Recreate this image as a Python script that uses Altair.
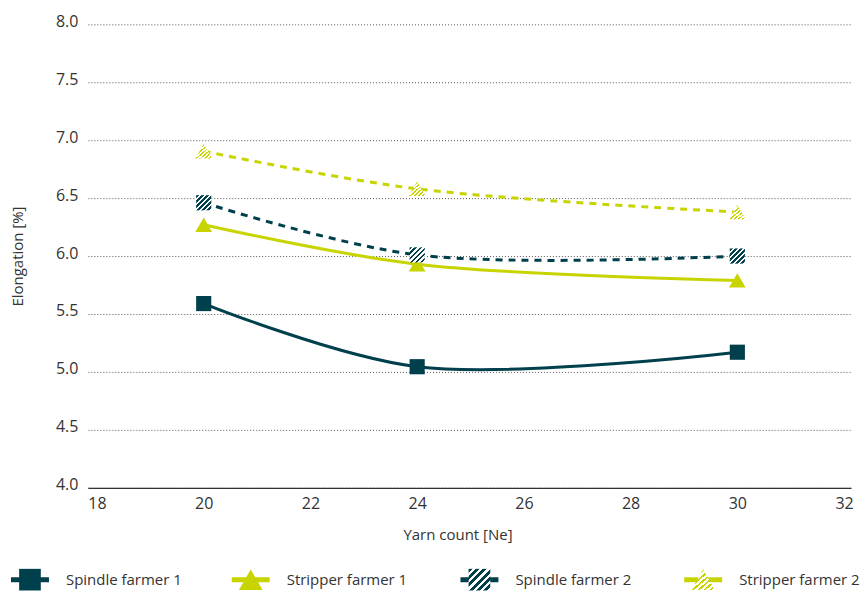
import altair as alt
import pandas as pd

# ---- data ----
yarn_count = [20, 24, 30]
spindle_farmer_1 = [5.59, 5.045, 5.17]
stripper_farmer_1 = [6.27, 5.93, 5.79]
spindle_farmer_2 = [6.46, 6.01, 6.00]
stripper_farmer_2 = [6.905, 6.58, 6.38]
series_names = ["Spindle farmer 1", "Stripper farmer 1", "Spindle farmer 2", "Stripper farmer 2"]
series_values = [spindle_farmer_1, stripper_farmer_1, spindle_farmer_2, stripper_farmer_2]
x_ticks = [18, 20, 22, 24, 26, 28, 30, 32]
y_ticks = [4.0, 4.5, 5.0, 5.5, 6.0, 6.5, 7.0, 7.5, 8.0]

DARK = "#00404d"
LIME = "#c8d400"
FONT = "Open Sans"
TXT = "#333333"


def stripes(c1, c2, n, frac):
    stops = []
    for i in range(n):
        a, b, c = i / n, (i + frac) / n, (i + 1) / n
        stops += [
            alt.GradientStop(color=c1, offset=a),
            alt.GradientStop(color=c1, offset=b),
            alt.GradientStop(color=c2, offset=b),
            alt.GradientStop(color=c2, offset=c),
        ]
    return alt.LinearGradient(gradient="linear", stops=stops, x1=0, y1=0, x2=1, y2=1)


styles = {
    "Spindle farmer 1": dict(color=DARK, dash=None, shape="square", fill=DARK, size=230, lsize=470),
    "Stripper farmer 1": dict(color=LIME, dash=None, shape="triangle-up", fill=LIME, size=280, lsize=560),
    "Spindle farmer 2": dict(color=DARK, dash=[7, 6], shape="square", fill=stripes(DARK, "#ffffff", 6, 0.55), size=230, lsize=470),
    "Stripper farmer 2": dict(color=LIME, dash=[7, 6], shape="triangle-up", fill=stripes(LIME, "#ffffff", 8, 0.45), size=280, lsize=560),
}

rows = []
for name, vals in zip(series_names, series_values):
    for xv, yv in zip(yarn_count, vals):
        rows.append({"series": name, "count": xv, "elong": yv})
df = pd.DataFrame(rows)

x_enc = alt.X(
    "count:Q",
    scale=alt.Scale(domain=[17.83, 32.13], nice=False, zero=False),
    axis=alt.Axis(values=x_ticks, format="d", title="Yarn count [Ne]", grid=False, ticks=False,
                  domainColor="#333333", domainWidth=1.2, labelPadding=8, titlePadding=16,
                  titleX=370, titleFontSize=15),
)
y_enc = alt.Y(
    "elong:Q",
    scale=alt.Scale(domain=[4, 8], nice=False, zero=False),
    axis=alt.Axis(values=y_ticks, format=".1f", title="Elongation [%]", domain=False, ticks=False,
                  grid=True, gridDash=[1, 2], gridColor="#555555", gridWidth=1,
                  labelPadding=10, labelOffset=-3, titlePadding=30, titleFontSize=15),
)

base = alt.Chart(df)
line_layers = []
point_layers = []
for name in series_names:
    st = styles[name]
    sub = base.transform_filter(alt.datum.series == name)
    lkw = dict(color=st["color"], strokeWidth=3, interpolate="catmull-rom")
    if st["dash"]:
        lkw["strokeDash"] = st["dash"]
    line_layers.append(sub.mark_line(**lkw).encode(x=x_enc, y=y_enc))
    point_layers.append(
        sub.mark_point(shape=st["shape"], filled=True, fill=st["fill"], size=st["size"],
                       opacity=1, strokeWidth=0).encode(x=x_enc, y=y_enc)
    )

main = alt.layer(*line_layers, *point_layers).properties(width=764, height=464)

# ---- legend row ----
leg_df = pd.DataFrame({"series": series_names, "slot": list(range(len(series_names)))})
leg_x = alt.X("slot:Q", scale=alt.Scale(domain=[0, 1, 2, 3], range=[-58, 163, 392, 616]), axis=None)
leg_base = alt.Chart(leg_df)
leg_color = alt.Color("series:N", scale=alt.Scale(domain=series_names, range=[DARK, LIME, DARK, LIME]), legend=None)
leg_line = leg_base.mark_tick(orient="horizontal", size=38, thickness=5, opacity=1).encode(
    x=leg_x, y=alt.value(12), color=leg_color)
leg_pts = []
for name in series_names:
    st = styles[name]
    leg_pts.append(
        leg_base.transform_filter(alt.datum.series == name)
        .mark_point(shape=st["shape"], filled=True, fill=st["fill"], size=st["lsize"], opacity=1, strokeWidth=0)
        .encode(x=leg_x, y=alt.value(12))
    )
leg_text = leg_base.mark_text(align="left", baseline="middle", dx=36, font=FONT, fontSize=15, color=TXT).encode(
    x=leg_x, y=alt.value(12), text="series:N")
legend = alt.layer(leg_line, *leg_pts, leg_text).properties(width=764, height=24)

chart = (
    alt.vconcat(main, legend, spacing=25)
    .properties(padding={"left": 2, "top": 5, "right": 0, "bottom": 0})
    .configure_view(stroke=None)
    .configure_axis(labelFont=FONT, titleFont=FONT, labelFontSize=16, titleFontSize=15,
                    labelColor=TXT, titleColor=TXT, titleFontWeight="normal")
)

chart.save("out.html", embed_options={"renderer": "svg", "actions": False})
